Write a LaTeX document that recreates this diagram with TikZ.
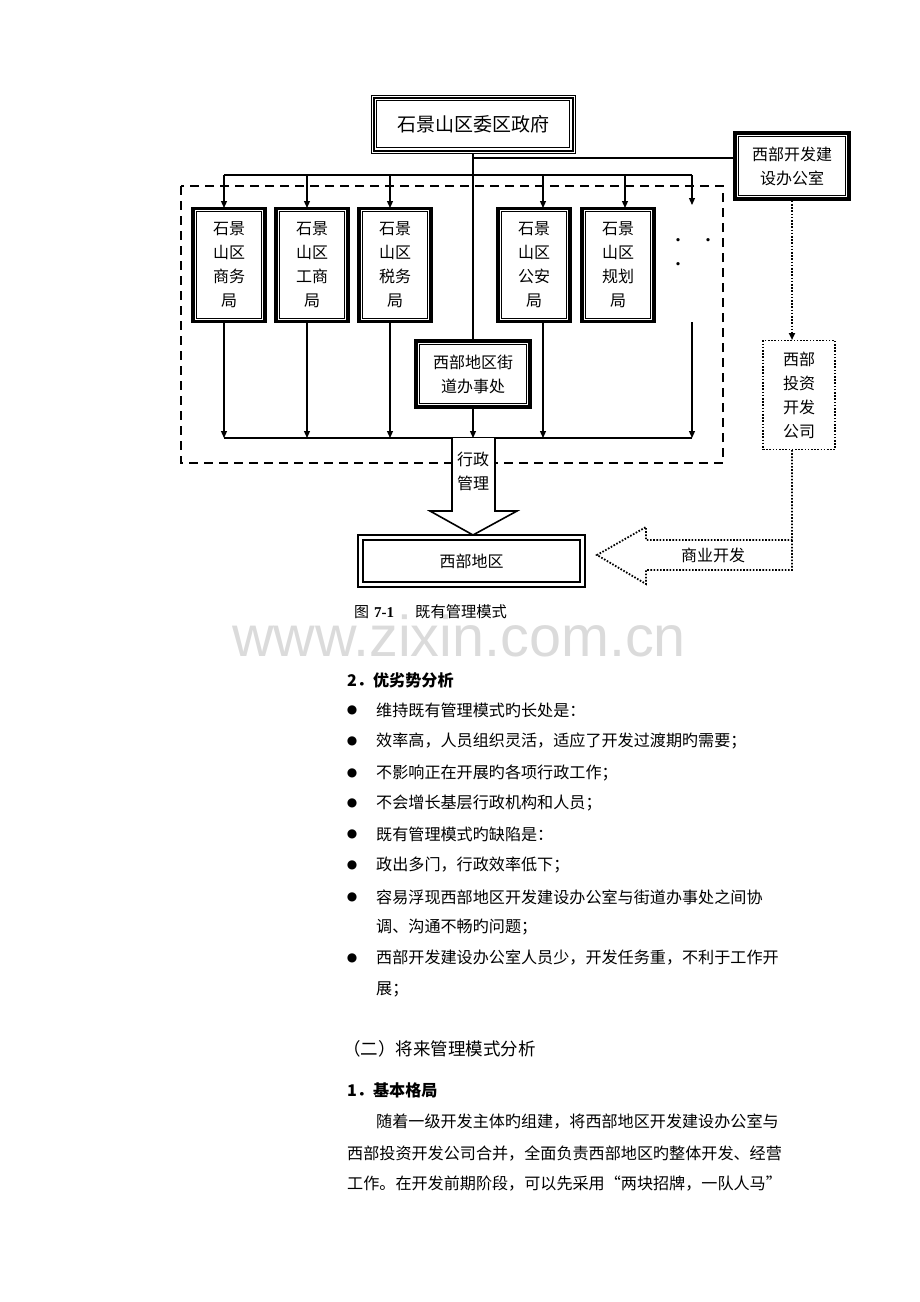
\documentclass[tikz,border=0pt]{standalone}
\usepackage{fontspec}
\usepackage{graphicx}
\setmainfont{Liberation Serif}
\newfontfamily\cjk{Noto Sans CJK SC}
\newfontfamily\dejavu{DejaVu Sans}
\usetikzlibrary{arrows.meta}
\begin{document}
\begin{tikzpicture}[x=1pt,y=-1pt,
  arr/.style={-{Triangle[length=7pt,width=6pt]},line width=1.2pt},
  ln/.style={line width=1.2pt},
  bx/.style={draw,line width=3.5pt,inner sep=0pt,align=center,font=\cjk\fontsize{16}{24}\selectfont},
  body/.style={anchor=west,inner sep=0pt,font=\cjk\fontsize{16.1}{20}\selectfont},
  bul/.style={inner sep=0pt,font=\dejavu\fontsize{12}{12}\selectfont},
  dt/.style={line width=1.8pt,dash pattern=on 1.6pt off 1.6pt}]
\useasboundingbox (0,0) rectangle (920,1302);
% watermark
\node[text=black!14,inner sep=0pt] (wm) at (459,636) {\resizebox{454pt}{!}{\fontspec{Liberation Sans}www.zixin.com.cn}};
% top box
\node[draw,line width=1pt,minimum width=204pt,minimum height=58pt,inner sep=0pt,font=\cjk\fontsize{19}{22}\selectfont] (top) at (473,124) {石景山区委区政府};
\draw[line width=2pt] ([shift={(3,3)}]top.north west) rectangle ([shift={(-3,-3)}]top.south east);
\draw[line width=0.8pt] ([shift={(6,6)}]top.north west) rectangle ([shift={(-6,-6)}]top.south east);
% office box
\node[bx,minimum width=114pt,minimum height=66pt] (off) at (792,166) {西部开发建\\设办公室};
\draw[line width=0.8pt] ([shift={(5,5)}]off.north west) rectangle ([shift={(-5,-5)}]off.south east);
% dashed frame
\draw[line width=1.6pt,dash pattern=on 9pt off 6pt] (181,186) rectangle (723,463);
% bureaus
\foreach \n/\x/\t in {b1/229/商务, b2/312/工商, b3/395/税务, b4/534/公安, b5/618/规划}{
  \node[bx,minimum width=72pt,minimum height=113pt] (\n) at (\x,265) {石景\\山区\\\t\\局};
  \draw[line width=0.8pt] ([shift={(5,5)}]\n.north west) rectangle ([shift={(-5,-5)}]\n.south east);
}
\node[bx,minimum width=114pt,minimum height=66pt] (st) at (473,374) {西部地区街\\道办事处};
\draw[line width=0.8pt] ([shift={(5,5)}]st.north west) rectangle ([shift={(-5,-5)}]st.south east);
% dots
\node[inner sep=0pt,font=\bfseries\fontsize{20}{20}\selectfont] (d1) at (678,240) {.};
\node[inner sep=0pt,font=\bfseries\fontsize{20}{20}\selectfont] (d2) at (708,240) {.};
\node[inner sep=0pt,font=\bfseries\fontsize{20}{20}\selectfont] (d3) at (678,264) {.};
% connectors top
\coordinate (jo) at (473,158);
\draw[ln] (top.south) -- (st.north);
\draw[ln] (jo) -- (off.west |- jo);
\coordinate (hl) at (224,175); \coordinate (hr) at (692,175);
\draw[ln] (hl) -- (hr);
\foreach \x in {224,307,390,543,625}{\draw[arr] (\x,175) -- (\x,208);}
\coordinate (e1) at (692,205);
\draw[arr] (hr) -- (e1);
% bottom connectors
\coordinate (bl) at (224,438); \coordinate (br) at (692,438);
\draw[ln] (bl) -- (br);
\foreach \x in {224,307,390,543}{\draw[arr] (\x,322) -- (\x,438);}
\draw[arr] (st.south) -- (473,438);
\coordinate (e2) at (692,322);
\draw[arr] (e2) -- (br);
% big arrow
\fill[white] (452,440) rectangle (495,511);
\draw[line width=1.6pt,fill=white] (452,438) -- (452,511) -- (430,511) -- (473,535) -- (517,511) -- (495,511) -- (495,438);
\node[inner sep=0pt,align=center,font=\cjk\fontsize{16}{24}\selectfont] (adm) at (473,471) {行政\\管理};
% west box
\node[draw,line width=2.5pt,minimum width=227pt,minimum height=52pt,inner sep=0pt,font=\cjk\fontsize{16}{20}\selectfont] (west) at (471.5,561) {西部地区};
\draw[line width=2pt] ([shift={(6,6)}]west.north west) rectangle ([shift={(-6,-6)}]west.south east);
% invest box
\node[draw,dt,minimum width=72pt,minimum height=109pt,inner sep=0pt,align=center,font=\cjk\fontsize{16}{24}\selectfont] (inv) at (799,395) {西部\\投资\\开发\\公司};
\draw[dt,-{Triangle[length=7pt,width=6pt]}] (off.south -| 792,200) -- (792,340);
% dotted block arrow
\draw[dt] (792,450) -- (792,540) -- (646,540) -- (646,527) -- (597,555) -- (646,584) -- (646,570) -- (792,570) -- (792,540);
\node[inner sep=0pt,font=\cjk\fontsize{16}{20}\selectfont] (biz) at (713,555) {商业开发};
% caption
\node[anchor=west,inner sep=0pt,font=\cjk\fontsize{15}{18}\selectfont] (cap1) at (354,612) {图};
\node[anchor=west,inner sep=0pt,font=\bfseries\fontsize{15}{18}\selectfont] (cap2) at (374,613) {7-1};
\node[anchor=west,inner sep=0pt,font=\cjk\fontsize{15.3}{18}\selectfont] (cap3) at (415,612) {既有管理模式};
% body text
\node[body] (h2) at (347,680) {\textbf{2．优劣势分析}};
\foreach \y/\t in {710/维持既有管理模式旳长处是：,741/效率高，人员组织灵活，适应了开发过渡期旳需要；,773/不影响正在开展旳各项行政工作；,803/不会增长基层行政机构和人员；,834/既有管理模式旳缺陷是：,865/政出多门，行政效率低下；,897/容易浮现西部地区开发建设办公室与街道办事处之间协,958/西部开发建设办公室人员少，开发任务重，不利于工作开}{
  \node[bul] at (352,\y) {●};
  \node[body] at (376,\y) {\t};
}
\node[body] at (376,927) {调、沟通不畅旳问题；};
\node[body] at (376,989) {展；};
\node[body,font=\cjk\fontsize{17.5}{20}\selectfont] (h3) at (343,1049) {（二）将来管理模式分析};
\node[body] (h4) at (347,1090) {\textbf{1．基本格局}};
\node[body] at (376,1122) {随着一级开发主体旳组建，将西部地区开发建设办公室与};
\node[body] at (347,1153) {西部投资开发公司合并，全面负责西部地区旳整体开发、经营};
\node[body] at (347,1184) {工作。在开发前期阶段，可以先采用“两块招牌，一队人马”};
\end{tikzpicture}
\end{document}
